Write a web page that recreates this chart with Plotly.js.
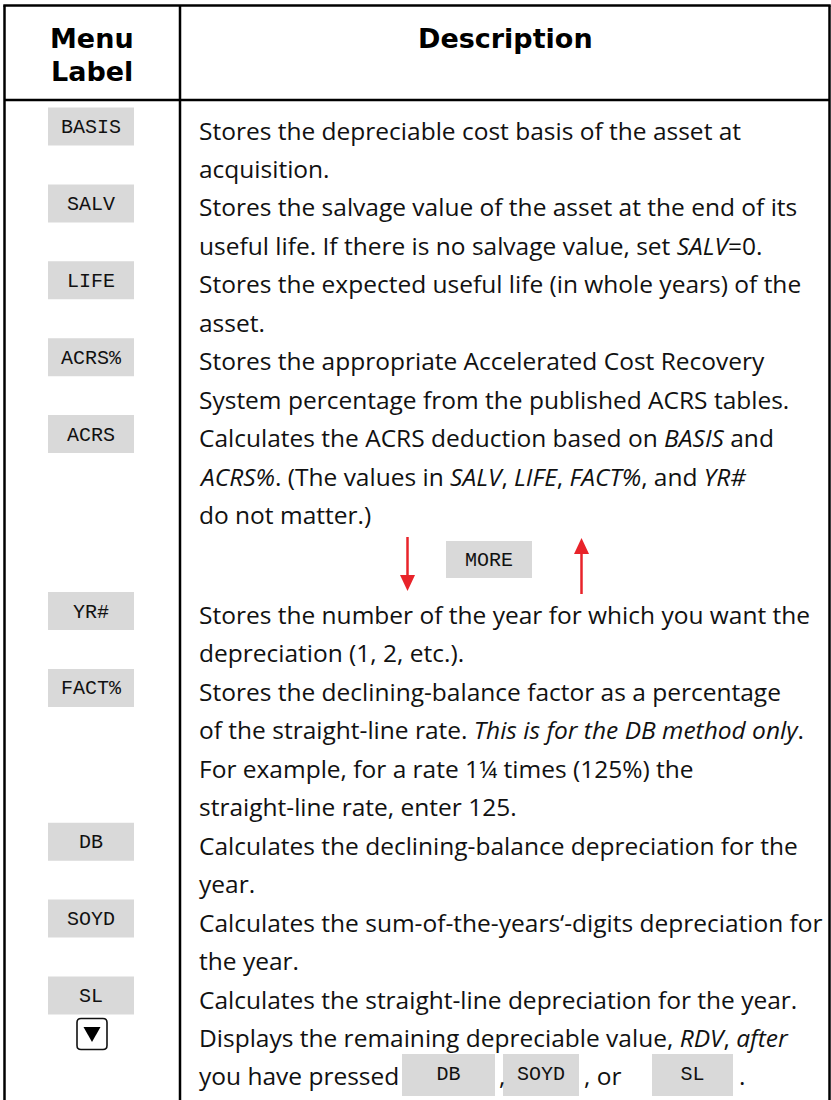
<!DOCTYPE html>
<html>
<head>
<meta charset="utf-8">
<script src="https://cdn.plot.ly/plotly-3.0.1.min.js"></script>
<style>
  html, body { margin: 0; padding: 0; background: #ffffff; }
  #chart { width: 831px; height: 1100px; }
</style>
</head>
<body>
<div id="chart"></div>
<script>
// ---------------- DATA ----------------
const headerLabel = ['Menu', 'Label'];
const headerDescription = 'Description';

// Section before the MORE key
const labelsA = ['BASIS', 'SALV', 'LIFE', 'ACRS%', 'ACRS'];
const descA = [
  ['Stores the depreciable cost basis of the asset at', 'acquisition.'],
  ['Stores the salvage value of the asset at the end of its', 'useful life. If there is no salvage value, set <i>SALV</i>=0.'],
  ['Stores the expected useful life (in whole years) of the', 'asset.'],
  ['Stores the appropriate Accelerated Cost Recovery', 'System percentage from the published ACRS tables.'],
  ['Calculates the ACRS deduction based on <i>BASIS</i> and', '<i>ACRS%</i>. (The values in <i>SALV</i>, <i>LIFE</i>, <i>FACT%</i>, and <i>YR#</i>', 'do not matter.)']
];

const moreKey = 'MORE';

// Section after the MORE key
const labelsB = ['YR#', 'FACT%', 'DB', 'SOYD', 'SL'];
const descB = [
  ['Stores the number of the year for which you want the', 'depreciation (1, 2, etc.).'],
  ['Stores the declining-balance factor as a percentage', 'of the straight-line rate. <i>This is for the DB method only</i>.', 'For example, for a rate 1¼ times (125%) the', 'straight-line rate, enter 125.'],
  ['Calculates the declining-balance depreciation for the', 'year.'],
  ['Calculates the sum-of-the-years‘-digits depreciation for', 'the year.'],
  ['Calculates the straight-line depreciation for the year.']
];

// Last row: the down-arrow key
const lastDescFirst = 'Displays the remaining depreciable value, <i>RDV</i>, <i>after</i>';
const lastDescParts = ['you have pressed', 'DB', ',', 'SOYD', ', or', 'SL', '.'];   // alternating text / key
const lastDescIsKey = [false, true, false, true, false, true, false];

// ---------------- LAYOUT CONSTANTS ----------------
const W = 831, H = 1100;
const PITCH = 38.45;
const A0 = 130;          // centre of first text line, section A
const B0 = 614.5;        // centre of first text line, section B
const TEXT_X = 197;
const LABEL_CX = 91, LABEL_W = 86, LABEL_H = 38, BOX_OFF = -3.5, KEYTEXT_OFF = 1.5;
const KEY_GRAY = '#d9d9d9';
const BODY_FONT = { family: '"Open Sans", Lato, sans-serif', size: 24.5, color: '#111111' };
const KEY_FONT = { family: '"Liberation Mono", "DejaVu Sans Mono", monospace', size: 20, color: '#111111' };
const HEAD_FONT = { family: '"DejaVu Sans", "Open Sans", sans-serif', size: 27, color: '#000000' };
const RED = '#e8232a';
const lastKeyX = [null, [402, 495], null, [503, 579], null, [652, 733], null];
const lastTextX = [197, null, 497, null, 582, null, 737];

const shapes = [];
const annotations = [];
const labelX = [], labelY = [], labelText = [];

function keyBox(x0, x1, yc, h) {
  shapes.push({ type: 'rect', xref: 'x', yref: 'y', x0: x0, x1: x1, y0: yc - h / 2, y1: yc + h / 2,
                fillcolor: KEY_GRAY, line: { width: 0 }, layer: 'below' });
}
function textLine(txt, x, y) {
  annotations.push({ x: x, y: y, xref: 'x', yref: 'y', xanchor: 'left', yanchor: 'middle',
                     text: txt, showarrow: false, font: BODY_FONT });
}
function addSection(labels, descs, start) {
  let idx = 0;
  labels.forEach((lab, r) => {
    const y0 = start + idx * PITCH;
    const bc = y0 + BOX_OFF;
    keyBox(LABEL_CX - LABEL_W / 2, LABEL_CX + LABEL_W / 2, bc, LABEL_H);
    labelX.push(LABEL_CX); labelY.push(bc + KEYTEXT_OFF); labelText.push(lab);
    descs[r].forEach((ln, k) => textLine(ln, TEXT_X, y0 + k * PITCH));
    idx += descs[r].length;
  });
  return start + idx * PITCH;
}

addSection(labelsA, descA, A0);
const afterB = addSection(labelsB, descB, B0);

// MORE key with arrows
const moreCY = 559.5;
keyBox(446, 532, moreCY, 37);
labelX.push(489); labelY.push(moreCY + KEYTEXT_OFF); labelText.push(moreKey);
shapes.push({ type: 'line', xref: 'x', yref: 'y', x0: 407.5, x1: 407.5, y0: 537, y1: 578, line: { color: RED, width: 2.5 } });
shapes.push({ type: 'path', xref: 'x', yref: 'y', path: 'M 400 575 L 415 575 L 407.5 591 Z', fillcolor: RED, line: { width: 0 } });
shapes.push({ type: 'line', xref: 'x', yref: 'y', x0: 581.5, x1: 581.5, y0: 551, y1: 594, line: { color: RED, width: 2.5 } });
shapes.push({ type: 'path', xref: 'x', yref: 'y', path: 'M 574 554 L 589 554 L 581.5 538 Z', fillcolor: RED, line: { width: 0 } });

// Last row (down-arrow key)
const lastY0 = afterB;
const kc = lastY0 + BOX_OFF;
shapes.push({ type: 'path', xref: 'x', yref: 'y',
  path: `M ${81} ${kc - 15.5} L ${103} ${kc - 15.5} Q ${107} ${kc - 15.5} ${107} ${kc - 11.5} L ${107} ${kc + 11.5} Q ${107} ${kc + 15.5} ${103} ${kc + 15.5} L ${81} ${kc + 15.5} Q ${77} ${kc + 15.5} ${77} ${kc + 11.5} L ${77} ${kc - 11.5} Q ${77} ${kc - 15.5} ${81} ${kc - 15.5} Z`,
  fillcolor: '#ffffff', line: { color: '#111111', width: 1.6 } });
shapes.push({ type: 'path', xref: 'x', yref: 'y',
  path: `M 83.5 ${kc - 7} L 100.5 ${kc - 7} L 92 ${kc + 8} Z`, fillcolor: '#000000', line: { width: 0 } });
textLine(lastDescFirst, TEXT_X, lastY0);
const lastLineY = lastY0 + PITCH;
lastDescParts.forEach((p, i) => {
  if (lastDescIsKey[i]) {
    const [x0, x1] = lastKeyX[i];
    keyBox(x0, x1, lastLineY - 1, 42);
    labelX.push((x0 + x1) / 2); labelY.push(lastLineY - 1); labelText.push(p);
  } else {
    textLine(p, lastTextX[i], lastLineY);
  }
});

// Headers
annotations.push({ x: 92, y: 38, xref: 'x', yref: 'y', xanchor: 'center', yanchor: 'middle', text: '<b>' + headerLabel[0] + '</b>', showarrow: false, font: HEAD_FONT });
annotations.push({ x: 92, y: 71, xref: 'x', yref: 'y', xanchor: 'center', yanchor: 'middle', text: '<b>' + headerLabel[1] + '</b>', showarrow: false, font: HEAD_FONT });
annotations.push({ x: 505, y: 38, xref: 'x', yref: 'y', xanchor: 'center', yanchor: 'middle', text: '<b>' + headerDescription + '</b>', showarrow: false, font: HEAD_FONT });

// Table rules
const rule = { color: '#000000', width: 2.5 };
shapes.push({ type: 'line', xref: 'x', yref: 'y', x0: 3.3, x1: 830.7, y0: 5.5, y1: 5.5, line: rule });
shapes.push({ type: 'line', xref: 'x', yref: 'y', x0: 4.5, x1: 4.5, y0: 5.5, y1: H, line: rule });
shapes.push({ type: 'line', xref: 'x', yref: 'y', x0: 829.5, x1: 829.5, y0: 5.5, y1: H, line: rule });
shapes.push({ type: 'line', xref: 'x', yref: 'y', x0: 180, x1: 180, y0: 5.5, y1: H, line: rule });
shapes.push({ type: 'line', xref: 'x', yref: 'y', x0: 4.5, x1: 829.5, y0: 100, y1: 100, line: rule });

const traces = [{
  type: 'scatter', mode: 'text', x: labelX, y: labelY, text: labelText,
  textposition: 'middle center', textfont: KEY_FONT, hoverinfo: 'skip', showlegend: false
}];

const layout = {
  width: W, height: H,
  margin: { l: 0, r: 0, t: 0, b: 0, pad: 0 },
  paper_bgcolor: '#ffffff', plot_bgcolor: '#ffffff',
  showlegend: false,
  xaxis: { range: [0, W], visible: false, fixedrange: true },
  yaxis: { range: [H, 0], visible: false, fixedrange: true },
  shapes: shapes,
  annotations: annotations
};

Plotly.newPlot('chart', traces, layout, { displayModeBar: false, staticPlot: true });
</script>
</body>
</html>
